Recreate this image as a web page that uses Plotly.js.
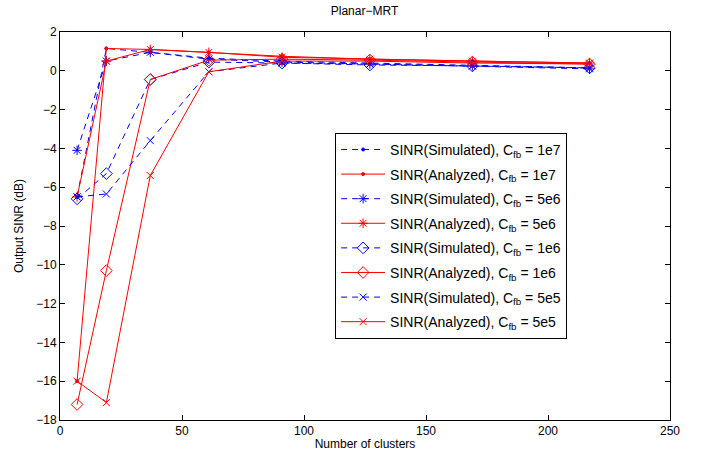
<!DOCTYPE html>
<html><head><meta charset="utf-8">
<script src="https://cdn.plot.ly/plotly-3.0.1.min.js"></script>
<style>html,body{margin:0;padding:0;background:#fff}#chart{width:701px;height:458px}</style>
</head><body><div id="chart"></div>
<script>
const clusters = [7, 19, 37, 61, 91, 127, 169, 217];
const sim1e7 = [-6.5, 1.15, 0.95, 0.65, 0.5, 0.4, 0.3, 0.15];
const ana1e7 = [-16.0, 1.15, 1.1, 0.95, 0.75, 0.6, 0.5, 0.4];
const sim5e6 = [-4.1, 0.5, 0.95, 0.6, 0.45, 0.35, 0.25, 0.1];
const ana5e6 = [-6.5, 0.5, 1.1, 0.95, 0.7, 0.6, 0.5, 0.4];
const sim1e6 = [-6.6, -5.3, -0.45, 0.45, 0.4, 0.3, 0.25, 0.15];
const ana1e6 = [-17.2, -10.3, -0.45, 0.55, 0.6, 0.55, 0.45, 0.35];
const sim5e5 = [-6.5, -6.35, -3.6, -0.05, 0.4, 0.35, 0.25, 0.15];
const ana5e5 = [-16.0, -17.1, -5.4, -0.05, 0.5, 0.5, 0.4, 0.35];
const names = [
  'SINR(Simulated), C<sub>fb</sub> = 1e7',
  'SINR(Analyzed), C<sub>fb</sub> = 1e7',
  'SINR(Simulated), C<sub>fb</sub> = 5e6',
  'SINR(Analyzed), C<sub>fb</sub> = 5e6',
  'SINR(Simulated), C<sub>fb</sub> = 1e6',
  'SINR(Analyzed), C<sub>fb</sub> = 1e6',
  'SINR(Simulated), C<sub>fb</sub> = 5e5',
  'SINR(Analyzed), C<sub>fb</sub> = 5e5'
];
const series = [sim1e7, ana1e7, sim5e6, ana5e6, sim1e6, ana1e6, sim5e5, ana5e5];
const symbols = ['circle', 'circle', 'asterisk-open', 'asterisk-open', 'diamond-open', 'diamond-open', 'x-thin-open', 'x-thin-open'];
const sizes = [3, 3, 8, 8, 9, 9, 7, 7];

const traces = series.map((ys, i) => {
  const sim = i % 2 === 0;
  const col = sim ? '#0000ff' : '#ff0000';
  return {
    x: clusters, y: ys, name: names[i], type: 'scatter', mode: 'lines+markers',
    legendgroup: 'g' + i,
    line: {color: col, width: 1, dash: sim ? '6px,5px' : 'solid'},
    marker: {symbol: symbols[i], size: sizes[i], color: col, line: {color: col, width: 1}}
  };
});

const axisCommon = {
  showgrid: false, zeroline: false, showline: true, linecolor: '#000', linewidth: 1,
  mirror: 'allticks', ticks: 'inside', ticklen: 5, tickcolor: '#000',
  tickfont: {family: 'Liberation Sans, Arial, sans-serif', size: 12, color: '#000'}
};

const layout = {
  width: 701, height: 458,
  margin: {l: 59.5, r: 31, t: 32, b: 38},
  paper_bgcolor: '#fff', plot_bgcolor: '#fff',
  font: {family: 'Liberation Sans, Arial, sans-serif', size: 12, color: '#000'},
  title: {text: 'Planar\u2212MRT', x: 0.52, xanchor: 'center', y: 0.985, yanchor: 'top', font: {size: 12}},
  xaxis: Object.assign({}, axisCommon, {range: [0, 250], dtick: 50, tick0: 0,
    title: {text: 'Number of clusters', standoff: 2, font: {size: 12}}}),
  yaxis: Object.assign({}, axisCommon, {range: [-18, 2], dtick: 2, tick0: 0,
    title: {text: 'Output SINR (dB)', standoff: 10, font: {size: 12}}}),
  showlegend: true,
  legend: {x: 0.451, y: 0.74, xanchor: 'left', yanchor: 'top', bgcolor: '#fff',
    bordercolor: '#000', borderwidth: 1, font: {size: 14}, tracegroupgap: 3.4, itemwidth: 44}
};

Plotly.newPlot('chart', traces, layout, {displayModeBar: false, staticPlot: true});
</script></body></html>
